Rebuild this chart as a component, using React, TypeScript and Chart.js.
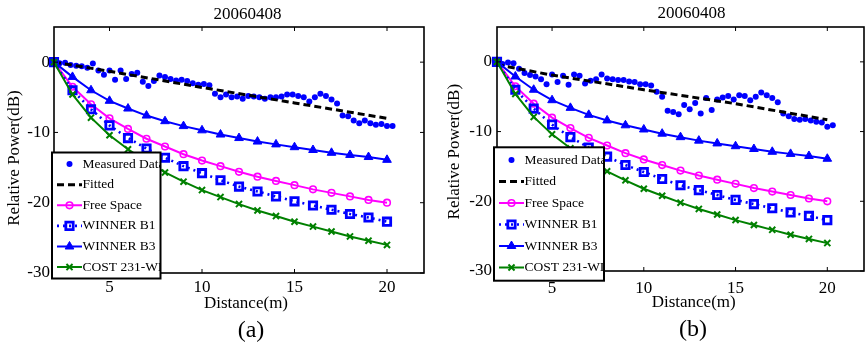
import React, { useEffect, useRef } from 'react';
import { Chart, registerables } from 'chart.js';

Chart.register(...registerables);

const FONT = '"Liberation Serif", "Times New Roman", serif';
const TITLE = '20060408';
const X_LABEL = 'Distance(m)';
const Y_LABEL = 'Relative Power(dB)';
const X_TICKS = [5, 10, 15, 20];
const Y_TICKS = [-30, -20, -10, 0];

const MODEL_DIST = [2, 3, 4, 5, 6, 7, 8, 9, 10, 11, 12, 13, 14, 15, 16, 17, 18, 19, 20];
const FREE_SPACE = [0, -3.5, -6.0, -8.0, -9.5, -10.9, -12.0, -13.1, -14.0, -14.8, -15.6, -16.3, -16.9, -17.5, -18.1, -18.6, -19.1, -19.6, -20.0];
const WINNER_B1 = [0, -4.0, -6.7, -9.0, -10.8, -12.3, -13.6, -14.8, -15.8, -16.8, -17.7, -18.4, -19.1, -19.8, -20.4, -21.0, -21.6, -22.1, -22.7];
const WINNER_B3 = [0, -2.1, -4.0, -5.5, -6.6, -7.6, -8.4, -9.1, -9.7, -10.3, -10.8, -11.3, -11.7, -12.1, -12.5, -12.9, -13.2, -13.5, -13.9];
const COST231_WI = [0, -4.6, -7.9, -10.4, -12.4, -14.1, -15.7, -17.0, -18.2, -19.2, -20.2, -21.1, -21.9, -22.7, -23.4, -24.1, -24.8, -25.4, -26.0];

const MEAS_DIST = [2.0, 2.3, 2.6, 2.9, 3.2, 3.5, 3.8, 4.1, 4.4, 4.7, 5.0, 5.3, 5.6, 5.9, 6.2, 6.5, 6.8, 7.1, 7.4, 7.7, 8.0, 8.3, 8.6, 8.9, 9.2, 9.5, 9.8, 10.1, 10.4, 10.7, 11.0, 11.3, 11.6, 11.9, 12.2, 12.5, 12.8, 13.1, 13.4, 13.7, 14.0, 14.3, 14.6, 14.9, 15.2, 15.5, 15.8, 16.1, 16.4, 16.7, 17.0, 17.3, 17.6, 17.9, 18.2, 18.5, 18.8, 19.1, 19.4, 19.7, 20.0, 20.3];
const MEAS_A = [0, -0.15, -0.1, -0.4, -0.5, -0.6, -0.8, -0.2, -1.2, -1.8, -1.2, -2.5, -1.2, -2.4, -1.7, -1.5, -2.8, -3.4, -2.7, -1.9, -2.1, -2.4, -2.6, -2.5, -2.7, -3.0, -3.2, -3.1, -3.3, -4.5, -5.0, -4.6, -5.0, -4.9, -5.2, -4.8, -4.9, -5.0, -5.2, -5.0, -5.0, -4.9, -4.6, -4.6, -4.8, -5.0, -5.6, -5.0, -4.5, -4.8, -5.3, -5.9, -7.6, -7.7, -8.3, -8.7, -8.3, -8.7, -8.9, -8.8, -9.1, -9.1];
const MEAS_B = [0, -0.3, -0.1, -0.2, -1.0, -1.6, -1.9, -2.1, -2.5, -3.2, -1.8, -2.9, -2.0, -3.3, -1.8, -2.0, -3.1, -2.7, -2.5, -1.8, -2.4, -2.5, -2.6, -2.6, -2.8, -2.9, -3.2, -3.2, -3.4, -4.3, -5.0, -7.0, -7.2, -7.5, -6.2, -6.8, -5.9, -7.4, -5.2, -6.9, -5.4, -5.1, -4.9, -5.4, -4.8, -4.9, -5.5, -5.0, -4.4, -4.8, -5.2, -5.8, -7.4, -7.8, -8.2, -8.3, -8.2, -8.4, -8.6, -8.7, -9.3, -9.1];

const FIT_DIST = [2, 5, 10, 15, 20];
const FIT_A = [0, -1.3, -3.6, -5.8, -8.0];
const FIT_B = [-0.4, -1.9, -4.0, -6.0, -8.3];

const BLUE = '#0000ff';
const MAGENTA = '#ff00ff';
const GREEN = '#008000';

type Panel = {
  canvasW: number;
  canvasH: number;
  area: { left: number; right: number; top: number; bottom: number };
  measured: number[];
  fitted: number[];
  title: { x: number; y: number };
  xTitle: { x: number; y: number };
  yTitle: { x: number; y: number };
  tag: { text: string; x: number; y: number };
  legend: { left: number; top: number; width: number; height: number; first: number; step: number };
  xTickPad: number;
  yTickPad: number;
};

const PANEL_A: Panel = {
  canvasW: 432,
  canvasH: 346,
  area: { left: 54, right: 425, top: 27, bottom: 273 },
  measured: MEAS_A,
  fitted: FIT_A,
  title: { x: 247.5, y: 14.5 },
  xTitle: { x: 246, y: 304 },
  yTitle: { x: 15, y: 158 },
  tag: { text: '(a)', x: 251, y: 331 },
  legend: { left: 52, top: 152.5, width: 108.5, height: 126, first: 11.6, step: 20.6 },
  xTickPad: 4,
  yTickPad: 4,
};

const PANEL_B: Panel = {
  canvasW: 440,
  canvasH: 346,
  area: { left: 65, right: 437, top: 27, bottom: 271 },
  measured: MEAS_B,
  fitted: FIT_B,
  title: { x: 259.5, y: 13.5 },
  xTitle: { x: 261.7, y: 303 },
  yTitle: { x: 22.7, y: 151.7 },
  tag: { text: '(b)', x: 261, y: 330 },
  legend: { left: 62, top: 147.3, width: 110, height: 133.4, first: 12.7, step: 21.5 },
  xTickPad: 7,
  yTickPad: 5,
};

function drawMarker(ctx: CanvasRenderingContext2D, style: string, x: number, y: number, r: number, fill: string, stroke: string, bw: number) {
  ctx.save();
  ctx.setLineDash([]);
  ctx.beginPath();
  if (style === 'circle') {
    ctx.arc(x, y, r, 0, Math.PI * 2);
  } else if (style === 'rect') {
    const h = r * Math.SQRT1_2;
    ctx.rect(x - h, y - h, 2 * h, 2 * h);
  } else if (style === 'triangle') {
    ctx.moveTo(x, y - r);
    ctx.lineTo(x + 0.866 * r, y + 0.5 * r);
    ctx.lineTo(x - 0.866 * r, y + 0.5 * r);
    ctx.closePath();
  } else if (style === 'crossRot') {
    const h = r * Math.SQRT1_2;
    ctx.moveTo(x - h, y - h);
    ctx.lineTo(x + h, y + h);
    ctx.moveTo(x - h, y + h);
    ctx.lineTo(x + h, y - h);
  }
  if (style !== 'crossRot' && fill) {
    ctx.fillStyle = fill;
    ctx.fill();
  }
  if (bw > 0) {
    ctx.strokeStyle = stroke;
    ctx.lineWidth = bw;
    ctx.stroke();
  }
  ctx.restore();
}

function decorPlugin(p: Panel) {
  return {
    id: 'decor',
    afterDraw(chart: any) {
      const ctx: CanvasRenderingContext2D = chart.ctx;
      const a = chart.chartArea;
      const xs = chart.scales.x;
      const ys = chart.scales.y;
      ctx.save();
      ctx.strokeStyle = '#000';
      ctx.lineWidth = 1.6;
      ctx.strokeRect(a.left, a.top, a.right - a.left, a.bottom - a.top);
      const TL = 4;
      ctx.beginPath();
      for (const v of X_TICKS) {
        const x = xs.getPixelForValue(v);
        ctx.moveTo(x, a.bottom);
        ctx.lineTo(x, a.bottom - TL);
        ctx.moveTo(x, a.top);
        ctx.lineTo(x, a.top + TL);
      }
      for (const v of Y_TICKS) {
        const y = ys.getPixelForValue(v);
        ctx.moveTo(a.left, y);
        ctx.lineTo(a.left + TL, y);
        ctx.moveTo(a.right, y);
        ctx.lineTo(a.right - TL, y);
      }
      ctx.lineWidth = 1;
      ctx.stroke();
      ctx.fillStyle = '#000';
      ctx.textAlign = 'center';
      ctx.textBaseline = 'middle';
      ctx.font = `17px ${FONT}`;
      ctx.fillText(TITLE, p.title.x, p.title.y);
      ctx.fillText(X_LABEL, p.xTitle.x, p.xTitle.y);
      ctx.save();
      ctx.translate(p.yTitle.x, p.yTitle.y);
      ctx.rotate(-Math.PI / 2);
      ctx.fillText(Y_LABEL, 0, 0);
      ctx.restore();
      ctx.font = `24px ${FONT}`;
      ctx.fillText(p.tag.text, p.tag.x, p.tag.y);
      const L = p.legend;
      ctx.save();
      ctx.fillStyle = '#fff';
      ctx.fillRect(L.left, L.top, L.width, L.height);
      ctx.beginPath();
      ctx.rect(L.left, L.top, L.width, L.height);
      ctx.clip();
      chart.data.datasets.forEach((ds: any, i: number) => {
        const y = L.top + L.first + i * L.step;
        const x0 = L.left + 5;
        const x1 = L.left + 30;
        const xm = (x0 + x1) / 2;
        if (ds.showLine !== false) {
          ctx.save();
          ctx.strokeStyle = ds.borderColor;
          ctx.lineWidth = ds.borderWidth;
          ctx.setLineDash(ds.borderDash || []);
          ctx.beginPath();
          ctx.moveTo(x0, y);
          ctx.lineTo(x1, y);
          ctx.stroke();
          ctx.restore();
        }
        if (ds.pointRadius > 0) {
          drawMarker(ctx, ds.pointStyle, xm, y, ds.pointRadius, ds.pointBackgroundColor, ds.pointBorderColor, ds.pointBorderWidth);
        }
        ctx.fillStyle = '#000';
        ctx.font = `13.5px ${FONT}`;
        ctx.textAlign = 'left';
        ctx.textBaseline = 'middle';
        ctx.fillText(ds.label, L.left + 30.5, y);
      });
      ctx.restore();
      ctx.strokeStyle = '#000';
      ctx.lineWidth = 2;
      ctx.strokeRect(L.left, L.top, L.width, L.height);
      ctx.restore();
    },
  };
}

function makeConfig(p: Panel): any {
  const pts = (xs: number[], ys: number[]) => xs.map((x, i) => ({ x, y: ys[i] }));
  const tickFont = { family: FONT, size: 17 };
  return {
    type: 'line',
    data: {
      datasets: [
        {
          label: 'Measured Data',
          data: pts(MEAS_DIST, p.measured),
          showLine: false,
          pointStyle: 'circle',
          pointRadius: 3,
          pointBackgroundColor: BLUE,
          pointBorderColor: BLUE,
          pointBorderWidth: 0,
          borderColor: BLUE,
          order: 6,
          clip: false,
        },
        {
          label: 'Fitted',
          data: pts(FIT_DIST, p.fitted),
          borderColor: '#000',
          borderWidth: 3,
          borderDash: [7, 4],
          pointRadius: 0,
          order: 5,
          clip: false,
        },
        {
          label: 'Free Space',
          data: pts(MODEL_DIST, FREE_SPACE),
          borderColor: MAGENTA,
          borderWidth: 2,
          pointStyle: 'circle',
          pointRadius: 3.3,
          pointBorderWidth: 1.6,
          pointBackgroundColor: 'rgba(255,255,255,0)',
          pointBorderColor: MAGENTA,
          order: 4,
          clip: false,
        },
        {
          label: 'WINNER B1',
          data: pts(MODEL_DIST, WINNER_B1),
          borderColor: BLUE,
          borderWidth: 2.6,
          borderDash: [2, 4],
          pointStyle: 'rect',
          pointRadius: 5.2,
          pointBorderWidth: 2.8,
          pointBackgroundColor: 'rgba(255,255,255,0)',
          pointBorderColor: BLUE,
          order: 3,
          clip: false,
        },
        {
          label: 'WINNER B3',
          data: pts(MODEL_DIST, WINNER_B3),
          borderColor: BLUE,
          borderWidth: 2,
          pointStyle: 'triangle',
          pointRadius: 5,
          pointBorderWidth: 1,
          pointBackgroundColor: BLUE,
          pointBorderColor: BLUE,
          order: 2,
          clip: false,
        },
        {
          label: 'COST 231-WI',
          data: pts(MODEL_DIST, COST231_WI),
          borderColor: GREEN,
          borderWidth: 2,
          pointStyle: 'crossRot',
          pointRadius: 4.3,
          pointBorderWidth: 2,
          pointBackgroundColor: GREEN,
          pointBorderColor: GREEN,
          order: 1,
          clip: false,
        },
      ],
    },
    options: {
      responsive: false,
      maintainAspectRatio: false,
      animation: false,
      events: [],
      layout: {
        padding: { left: 0, top: p.area.top, right: p.canvasW - p.area.right, bottom: 0 },
      },
      elements: { line: { tension: 0, fill: false } },
      plugins: {
        legend: { display: false },
        tooltip: { enabled: false },
        title: { display: false },
      },
      scales: {
        x: {
          type: 'linear',
          min: 2,
          max: 22,
          grid: { display: false, drawTicks: false },
          border: { display: false },
          ticks: { font: tickFont, color: '#000', padding: p.xTickPad, maxRotation: 0, autoSkip: false },
          afterBuildTicks: (s: any) => {
            s.ticks = X_TICKS.map((v) => ({ value: v }));
          },
          afterFit: (s: any) => {
            s.height = p.canvasH - p.area.bottom;
          },
        },
        y: {
          type: 'linear',
          min: -30,
          max: 5,
          grid: { display: false, drawTicks: false },
          border: { display: false },
          ticks: { font: tickFont, color: '#000', padding: p.yTickPad, autoSkip: false },
          afterBuildTicks: (s: any) => {
            s.ticks = Y_TICKS.map((v) => ({ value: v }));
          },
          afterFit: (s: any) => {
            s.width = p.area.left;
          },
        },
      },
    },
    plugins: [decorPlugin(p)],
  };
}

function PanelChart({ cfg, left }: { cfg: Panel; left: number }) {
  const ref = useRef<HTMLCanvasElement>(null);
  useEffect(() => {
    const chart = new Chart(ref.current as HTMLCanvasElement, makeConfig(cfg));
    return () => chart.destroy();
  }, [cfg]);
  return (
    <canvas
      ref={ref}
      width={cfg.canvasW}
      height={cfg.canvasH}
      style={{ position: 'absolute', left, top: 0, width: cfg.canvasW, height: cfg.canvasH, display: 'block' }}
    />
  );
}

export default function App() {
  return (
    <div
      style={{
        position: 'fixed',
        left: 0,
        top: 0,
        width: 865,
        height: 346,
        overflow: 'hidden',
        background: '#fff',
      }}
    >
      <PanelChart cfg={PANEL_A} left={0} />
      <PanelChart cfg={PANEL_B} left={432} />
    </div>
  );
}
